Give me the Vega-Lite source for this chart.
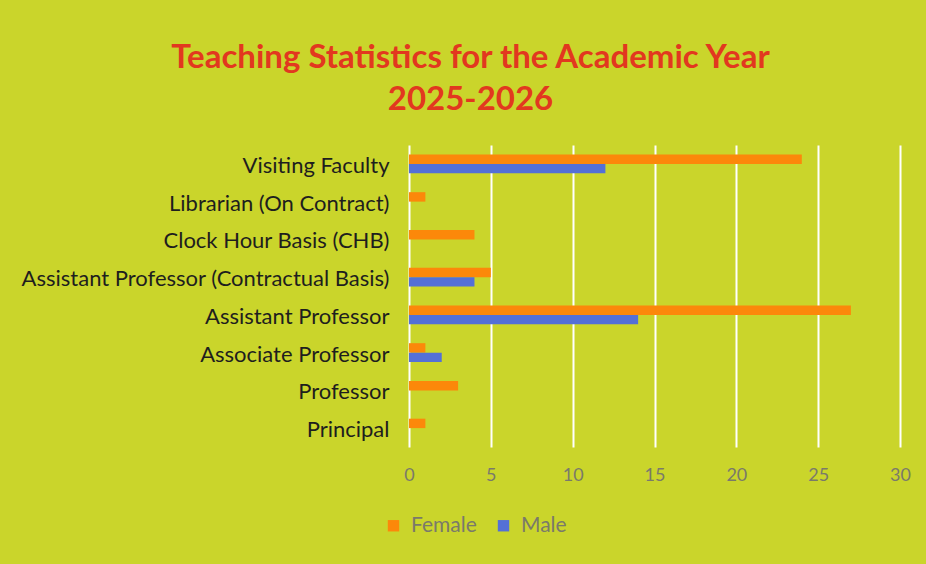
{
  "$schema": "https://vega.github.io/schema/vega-lite/v6.json",
  "width": 491,
  "height": 302,
  "autosize": "none",
  "padding": {"left": 409, "top": 145, "right": 26, "bottom": 117},
  "background": "#cad52b",
  "title": {
    "text": ["Teaching Statistics for the Academic Year", "2025-2026"],
    "font": "Lato",
    "fontSize": 33,
    "fontWeight": "bold",
    "color": "#e2381f",
    "lineHeight": 42,
    "anchor": "middle",
    "dx": -184,
    "offset": 28
  },
  "data": {
    "values": [
      {"role": "Visiting Faculty", "sex": "Female", "count": 24},
      {"role": "Visiting Faculty", "sex": "Male", "count": 12},
      {"role": "Librarian (On Contract)", "sex": "Female", "count": 1},
      {"role": "Clock Hour Basis (CHB)", "sex": "Female", "count": 4},
      {"role": "Assistant Professor (Contractual Basis)", "sex": "Female", "count": 5},
      {"role": "Assistant Professor (Contractual Basis)", "sex": "Male", "count": 4},
      {"role": "Assistant Professor", "sex": "Female", "count": 27},
      {"role": "Assistant Professor", "sex": "Male", "count": 14},
      {"role": "Associate Professor", "sex": "Female", "count": 1},
      {"role": "Associate Professor", "sex": "Male", "count": 2},
      {"role": "Professor", "sex": "Female", "count": 3},
      {"role": "Principal", "sex": "Female", "count": 1}
    ]
  },
  "mark": {"type": "bar"},
  "encoding": {
    "y": {
      "field": "role",
      "type": "nominal",
      "sort": ["Visiting Faculty", "Librarian (On Contract)", "Clock Hour Basis (CHB)", "Assistant Professor (Contractual Basis)", "Assistant Professor", "Associate Professor", "Professor", "Principal"],
      "scale": {"paddingInner": 0.5, "paddingOuter": 0.25},
      "axis": {
        "title": null,
        "domain": false,
        "ticks": false,
        "labelPadding": 20,
        "labelOffset": 2,
        "labelFont": "Lato",
        "labelFontSize": 22,
        "labelColor": "#1e1e1e",
        "labelLimit": 500
      }
    },
    "yOffset": {"field": "sex", "type": "nominal", "scale": {"domain": ["Female", "Male"]}},
    "x": {
      "field": "count",
      "type": "quantitative",
      "scale": {"domain": [0, 30]},
      "axis": {
        "title": null,
        "values": [0, 5, 10, 15, 20, 25, 30],
        "domain": false,
        "ticks": false,
        "labelFlush": false,
        "labelPadding": 19,
        "labelFont": "Lato",
        "labelFontSize": 18,
        "labelColor": "#7a7a6a",
        "grid": true,
        "gridColor": "#ffffff",
        "gridWidth": 2,
        "gridOpacity": 1
      }
    },
    "color": {
      "field": "sex",
      "type": "nominal",
      "scale": {"domain": ["Female", "Male"], "range": ["#fc880a", "#5470d6"]},
      "legend": {
        "title": null,
        "orient": "none",
        "direction": "horizontal",
        "legendX": -26,
        "legendY": 370,
        "symbolType": "square",
        "symbolSize": 130,
        "symbolStrokeWidth": 0,
        "labelFont": "Lato",
        "labelFontSize": 21,
        "labelColor": "#7a7a6a",
        "labelOffset": 7,
        "columnPadding": 16
      }
    }
  },
  "config": {"view": {"stroke": null}}
}
